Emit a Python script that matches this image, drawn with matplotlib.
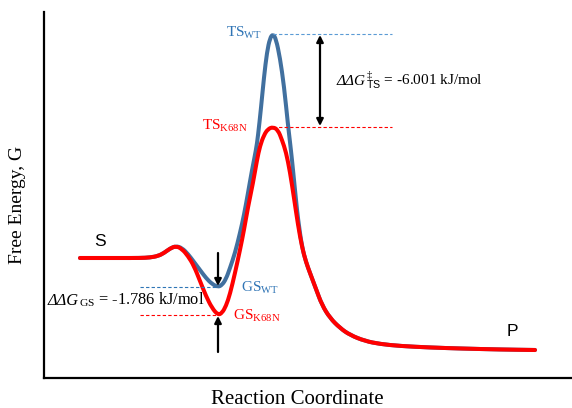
import matplotlib
matplotlib.use('Agg')
import matplotlib.pyplot as plt
from matplotlib.path import Path
from matplotlib.patches import PathPatch
from matplotlib.offsetbox import TextArea, HPacker, AnnotationBbox

plt.rcParams['font.family'] = 'Liberation Serif'
plt.rcParams['mathtext.fontset'] = 'custom'
plt.rcParams['mathtext.rm'] = 'Liberation Serif'
plt.rcParams['mathtext.it'] = 'Liberation Serif:italic'
plt.rcParams['mathtext.sf'] = 'Liberation Sans'

# free energy profiles (reaction coordinate, G), arbitrary units
wt_rc = [36, 56, 76, 96, 106, 114, 120, 126, 132, 138, 144, 150, 156, 162, 168, 174,
         178, 182, 186, 191, 196, 200, 204, 208, 212, 214, 217, 220, 223, 226, 229,
         232, 236, 240, 244, 246, 248, 250, 252, 254, 258, 262, 266, 272, 278, 286,
         296, 306, 321, 336, 356, 386, 416, 456, 491]
wt_G = [120, 120, 120, 120, 120.5, 122, 125, 129.5, 132, 130, 124, 116, 108, 100, 94, 91,
        93, 99, 110, 125, 145, 163, 185, 208, 228, 242, 270, 301, 326, 340, 344,
        339, 320, 292, 253, 236, 218, 198, 178, 159, 131, 116, 105, 89, 73, 60,
        50, 43, 37, 34, 32, 30.5, 29.5, 28.5, 28]

k68n_rc = [36, 56, 76, 96, 106, 114, 120, 126, 132, 138, 144, 150, 156, 162, 168, 174,
           178, 182, 186, 191, 196, 200, 204, 209, 213, 216, 220, 224, 229, 234, 238,
           242, 246, 250, 254, 258, 262, 266, 272, 278, 286, 296, 306, 321, 336, 356,
           386, 416, 456, 491]
k68n_G = [120, 120, 120, 120, 120.5, 122, 125, 129.5, 132, 129, 122, 112, 97, 82, 70, 63,
          65, 72, 84, 105, 128, 148, 171, 195, 218, 232, 243, 249, 251, 248, 238,
          226, 206, 180, 153, 131, 116, 105, 89, 73, 60, 50, 43, 37, 34, 32,
          30.5, 29.5, 28.5, 28]

ts_wt = 344
ts_k68n = 251
gs_wt = 91
gs_k68n = 63
ddg_ts = '-6.001 kJ/mol'
ddg_gs = '-1.786 kJ/mol'

blue_line = '#41709f'
blue_text = '#2f74b5'
red = '#ff0000'


def smooth_path(xs, ys):
    # quadratic bezier through the read points, so the stroke is not jagged
    pts = list(zip(xs, ys))
    verts = [pts[0], ((pts[0][0] + pts[1][0]) / 2, (pts[0][1] + pts[1][1]) / 2)]
    codes = [Path.MOVETO, Path.LINETO]
    for i in range(1, len(pts) - 1):
        mid = ((pts[i][0] + pts[i + 1][0]) / 2, (pts[i][1] + pts[i + 1][1]) / 2)
        verts += [pts[i], mid]
        codes += [Path.CURVE3, Path.CURVE3]
    verts.append(pts[-1])
    codes.append(Path.LINETO)
    return Path(verts, codes)


def ddg_label(ax, xy, script, value, size=11):
    # italic "ΔΔG" followed by sub/superscripts and the value, on one baseline
    parts = [TextArea('ΔΔG', textprops=dict(style='italic', fontsize=size)),
             TextArea(script + ' = ' + value, textprops=dict(fontsize=size))]
    box = HPacker(children=parts, align='baseline', pad=0, sep=0)
    ab = AnnotationBbox(box, xy, xycoords='data', box_alignment=(0, 0.5),
                        frameon=False, pad=0)
    ax.add_artist(ab)


fig = plt.figure(figsize=(5.72, 4.08), dpi=100)
ax = fig.add_axes([44/572, 30/408, 528/572, 366/408])

ax.add_patch(PathPatch(smooth_path(wt_rc, wt_G), fill=False, edgecolor=blue_line,
                       lw=2.9, joinstyle='round', capstyle='round'))
ax.add_patch(PathPatch(smooth_path(k68n_rc, k68n_G), fill=False, edgecolor=red,
                       lw=2.9, joinstyle='round', capstyle='round'))

# level guides
ax.hlines([ts_wt], 229, 348, colors='#5b9bd5', linestyles=(0, (3, 2)), lw=0.8)
ax.hlines([ts_k68n], 229, 348, colors=red, linestyles=(0, (3, 2)), lw=0.8)
ax.hlines([gs_wt], 96, 174, colors='#2e75b6', linestyles=(0, (3, 2)), lw=0.8)
ax.hlines([gs_k68n], 96, 174, colors=red, linestyles=(0, (3, 2)), lw=0.8)

# arrows
ax.annotate('', xy=(276, ts_k68n + 1), xytext=(276, ts_wt - 1),
            arrowprops=dict(arrowstyle='<|-|>', color='black', lw=1.6,
                            mutation_scale=10, shrinkA=0, shrinkB=0))
ax.annotate('', xy=(174, gs_wt + 1), xytext=(174, 125),
            arrowprops=dict(arrowstyle='-|>', color='black', lw=1.6,
                            mutation_scale=10, shrinkA=0, shrinkB=0))
ax.annotate('', xy=(174, gs_k68n - 1), xytext=(174, 26),
            arrowprops=dict(arrowstyle='-|>', color='black', lw=1.6,
                            mutation_scale=10, shrinkA=0, shrinkB=0))

# labels
ax.text(218, ts_wt + 1, r'TS$_{\mathrm{WT}}$', color=blue_text, fontsize=11, ha='right', va='center')
ax.text(204, ts_k68n + 1, r'TS$_{\mathrm{K68N}}$', color=red, fontsize=11, ha='right', va='center')
ax.text(197, gs_wt - 1, r'GS$_{\mathrm{WT}}$', color=blue_text, fontsize=11, ha='left', va='center')
ax.text(189, gs_k68n - 1, r'GS$_{\mathrm{K68N}}$', color=red, fontsize=11, ha='left', va='center')
ddg_label(ax, (293, 298), r'${}^{‡}_{\mathsf{TS}}$', ddg_ts)
ddg_label(ax, (4, 78), r'${}_{\mathrm{GS}}$', ddg_gs, size=11.8)
ax.text(56, 136, 'S', family='Liberation Sans', fontsize=12.5, ha='center', va='center')
ax.text(468, 46, 'P', family='Liberation Sans', fontsize=12.5, ha='center', va='center')

ax.set_xlim(0, 528)
ax.set_ylim(0, 366)
ax.set_xticks([])
ax.set_yticks([])
for s in ['top', 'right']:
    ax.spines[s].set_visible(False)
for s in ['left', 'bottom']:
    ax.spines[s].set_linewidth(1.6)

fig.text(18/572, 1 - 205/408, 'Free Energy, G', rotation=90, fontsize=14, ha='center', va='center')
fig.text(297/572, 1 - 400/408, 'Reaction Coordinate', fontsize=15, ha='center', va='center')

fig.savefig('out.png', dpi=100)
